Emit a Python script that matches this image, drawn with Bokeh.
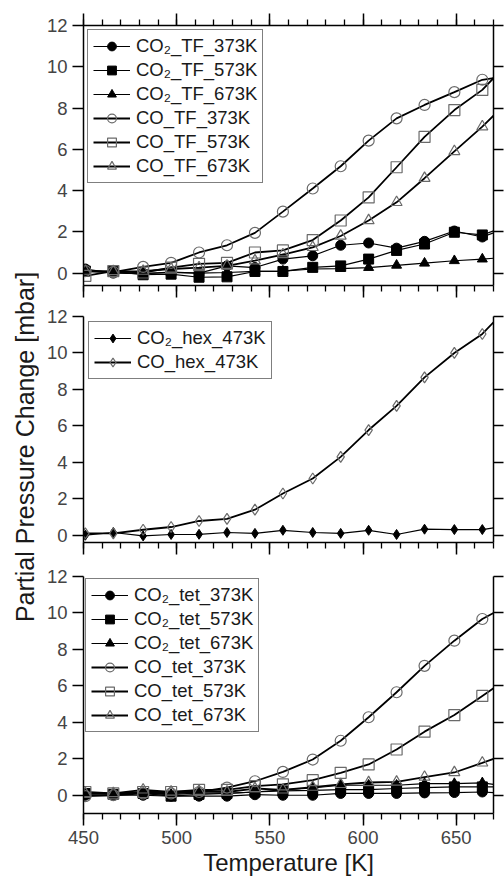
from bokeh.plotting import figure
from bokeh.models import (LinearAxis, FixedTicker, SingleIntervalTicker, Range1d,
                          Legend, LegendItem, Div)
from bokeh.layouts import row, gridplot
from bokeh.embed import file_html
from bokeh.resources import INLINE

# ---------------- data ----------------
T = [451, 466, 482, 497, 512, 527, 542, 557, 573, 588, 603, 618, 633, 649, 664, 670]
N_MARK = 15
Y_TICKS = [0, 2, 4, 6, 8, 10, 12]

co2_tf_373 = [0.2, 0.0, -0.02, 0.05, 0.0, 0.35, 0.27, 0.68, 0.84, 1.35, 1.46, 1.21, 1.54, 2.04, 1.75, 1.95]
co2_tf_573 = [0.1, 0.08, -0.08, -0.05, -0.2, -0.18, 0.08, 0.08, 0.28, 0.35, 0.68, 1.1, 1.41, 1.98, 1.85, 2.05]
co2_tf_673 = [0.08, 0.05, -0.02, 0.03, 0.0, 0.03, 0.08, 0.1, 0.2, 0.22, 0.27, 0.38, 0.48, 0.6, 0.68, 0.72]
co_tf_373 = [0.1, 0.05, 0.3, 0.5, 1.0, 1.35, 1.95, 2.98, 4.1, 5.18, 6.42, 7.5, 8.15, 8.77, 9.37, 9.45]
co_tf_573 = [-0.13, 0.1, 0.03, 0.27, 0.45, 0.5, 1.0, 1.1, 1.6, 2.55, 3.67, 5.13, 6.6, 7.9, 8.88, 9.45]
co_tf_673 = [0.1, 0.08, 0.1, 0.2, 0.27, 0.35, 0.6, 0.9, 1.25, 1.8, 2.55, 3.43, 4.6, 5.9, 7.1, 7.63]

co2_hex_473 = [0.0, 0.15, -0.04, 0.04, 0.05, 0.15, 0.1, 0.27, 0.15, 0.1, 0.27, 0.04, 0.33, 0.31, 0.31, 0.4]
co_hex_473 = [0.1, 0.1, 0.3, 0.45, 0.78, 0.9, 1.4, 2.29, 3.11, 4.3, 5.77, 7.1, 8.66, 10.0, 11.04, 11.68]

co2_tet_373 = [0.0, 0.0, 0.0, -0.05, -0.05, -0.05, 0.03, 0.0, 0.0, 0.1, 0.1, 0.1, 0.13, 0.15, 0.18, 0.15]
co2_tet_573 = [0.1, 0.05, 0.1, -0.05, 0.05, 0.1, 0.18, 0.24, 0.27, 0.31, 0.31, 0.37, 0.42, 0.46, 0.46, 0.46]
co2_tet_673 = [0.05, 0.1, 0.1, 0.04, 0.13, 0.1, 0.18, 0.3, 0.4, 0.55, 0.55, 0.55, 0.64, 0.64, 0.68, 0.6]
co_tet_373 = [-0.05, 0.0, 0.1, 0.1, 0.18, 0.42, 0.77, 1.28, 1.96, 2.99, 4.28, 5.65, 7.1, 8.48, 9.67, 10.0]
co_tet_573 = [0.18, 0.1, 0.18, 0.18, 0.3, 0.3, 0.5, 0.6, 0.83, 1.23, 1.69, 2.51, 3.49, 4.4, 5.45, 5.87]
co_tet_673 = [0.1, 0.1, 0.3, 0.18, 0.22, 0.18, 0.37, 0.3, 0.45, 0.6, 0.7, 0.73, 1.0, 1.25, 1.78, 2.0]

Y_LABEL = "Partial Pressure Change [mbar]"
X_LABEL = "Temperature [K]"

FONT = "Liberation Sans"
TXT = "#1a1a1a"
GRAY = "#6a6a6a"


def style_axis(ax, labels=True, major_out=11, minor_out=0):
    ax.axis_line_color = "black"
    ax.axis_line_width = 1.5
    ax.major_tick_line_color = "black"
    ax.major_tick_line_width = 1.5
    ax.major_tick_in = 0
    ax.major_tick_out = major_out
    ax.minor_tick_line_color = "black" if minor_out else None
    ax.minor_tick_line_width = 1.3
    ax.minor_tick_in = 0
    ax.minor_tick_out = minor_out
    ax.major_label_text_font = FONT
    if labels:
        ax.major_label_text_font_size = "18.5px"
    else:
        ax.major_label_text_color = None
        ax.major_label_text_font_size = "1px"


def make_panel(height, b_top, b_bot, ymin, series, top_axis=False, xlabel=None, legend_margin=4):
    p = figure(width=466, height=height, x_range=Range1d(450, 670), y_range=Range1d(ymin, 12),
               x_axis_location=None, y_axis_location=None, toolbar_location=None,
               output_backend="svg", min_border_left=45, min_border_right=11,
               min_border_top=b_top, min_border_bottom=b_bot)
    p.outline_line_color = None
    # keep the grids "on" but invisible (white on white, below every glyph)
    p.xgrid.grid_line_color = "white"
    p.ygrid.grid_line_color = "white"

    left = LinearAxis(ticker=FixedTicker(ticks=Y_TICKS, minor_ticks=[]))
    style_axis(left, labels=True, major_out=11)
    p.add_layout(left, "left")

    right = LinearAxis(ticker=FixedTicker(ticks=Y_TICKS, minor_ticks=[]))
    style_axis(right, labels=False, major_out=10)
    p.add_layout(right, "right")

    bottom = LinearAxis(ticker=SingleIntervalTicker(interval=50, num_minor_ticks=5))
    style_axis(bottom, labels=xlabel is not None, major_out=12, minor_out=6)
    if xlabel is not None:
        bottom.axis_label = xlabel
        bottom.axis_label_text_font = FONT
        bottom.axis_label_text_font_size = "24px"
        bottom.axis_label_text_font_style = "normal"
        bottom.axis_label_text_color = TXT
        bottom.axis_label_standoff = 2
    p.add_layout(bottom, "below")

    if top_axis:
        top = LinearAxis(ticker=SingleIntervalTicker(interval=50, num_minor_ticks=5))
        style_axis(top, labels=False, major_out=12, minor_out=6)
        p.add_layout(top, "above")

    lines = []
    for (name, ys, marker, filled, lw) in series:
        lines.append(p.line(T, ys, line_color="black", line_width=lw))
    items = []
    for (name, ys, marker, filled, lw), lr in zip(series, lines):
        if filled:
            sr = p.scatter(T[:N_MARK], ys[:N_MARK], marker=marker, size=10,
                           fill_color="black", line_color="black", line_width=1)
        else:
            sr = p.scatter(T[:N_MARK], ys[:N_MARK], marker=marker, size=11,
                           fill_color=None, line_color=GRAY, line_width=1.2)
        items.append(LegendItem(label=name, renderers=[lr, sr]))

    legend = Legend(items=items, location="top_left", margin=legend_margin, padding=5,
                    spacing=2, glyph_width=37, glyph_height=22, label_height=22,
                    label_standoff=6, label_text_font=FONT, label_text_font_size="18.5px",
                    label_text_color=TXT, border_line_color="black", border_line_width=1.5,
                    background_fill_color="white", background_fill_alpha=1.0)
    p.add_layout(legend)
    return p


p1 = make_panel(300, 25, 15, -0.6, [
    ("CO\u2082_TF_373K", co2_tf_373, "circle", True, 1.2),
    ("CO\u2082_TF_573K", co2_tf_573, "square", True, 1.2),
    ("CO\u2082_TF_673K", co2_tf_673, "triangle", True, 1.2),
    ("CO_TF_373K", co_tf_373, "circle", False, 1.8),
    ("CO_TF_573K", co_tf_573, "square", False, 1.8),
    ("CO_TF_673K", co_tf_673, "triangle", False, 1.8),
], top_axis=True)

p2 = make_panel(260, 16, 18, -0.4, [
    ("CO\u2082_hex_473K", co2_hex_473, "diamond", True, 1.2),
    ("CO_hex_473K", co_hex_473, "diamond", False, 1.8),
], legend_margin=5)

p3 = make_panel(321, 16, 68, -1.0, [
    ("CO\u2082_tet_373K", co2_tet_373, "circle", True, 1.2),
    ("CO\u2082_tet_573K", co2_tet_573, "square", True, 1.2),
    ("CO\u2082_tet_673K", co2_tet_673, "triangle", True, 1.2),
    ("CO_tet_373K", co_tet_373, "circle", False, 1.8),
    ("CO_tet_573K", co_tet_573, "square", False, 1.8),
    ("CO_tet_673K", co_tet_673, "triangle", False, 1.8),
], xlabel=X_LABEL, legend_margin=2)

ylab = Div(
    text=('<div style="position:absolute; left:25px; top:447px; '
          'transform:translate(-50%,-50%) rotate(-90deg); white-space:nowrap; '
          "font-family:'Liberation Sans'; font-size:25px; line-height:1; color:#1a1a1a;\">"
          + Y_LABEL + '</div>'),
    width=38, height=881, margin=0)

grid = gridplot([[p1], [p2], [p3]], toolbar_location=None)
layout = row(ylab, grid)

open("out.html", "w").write(file_html(layout, INLINE))
